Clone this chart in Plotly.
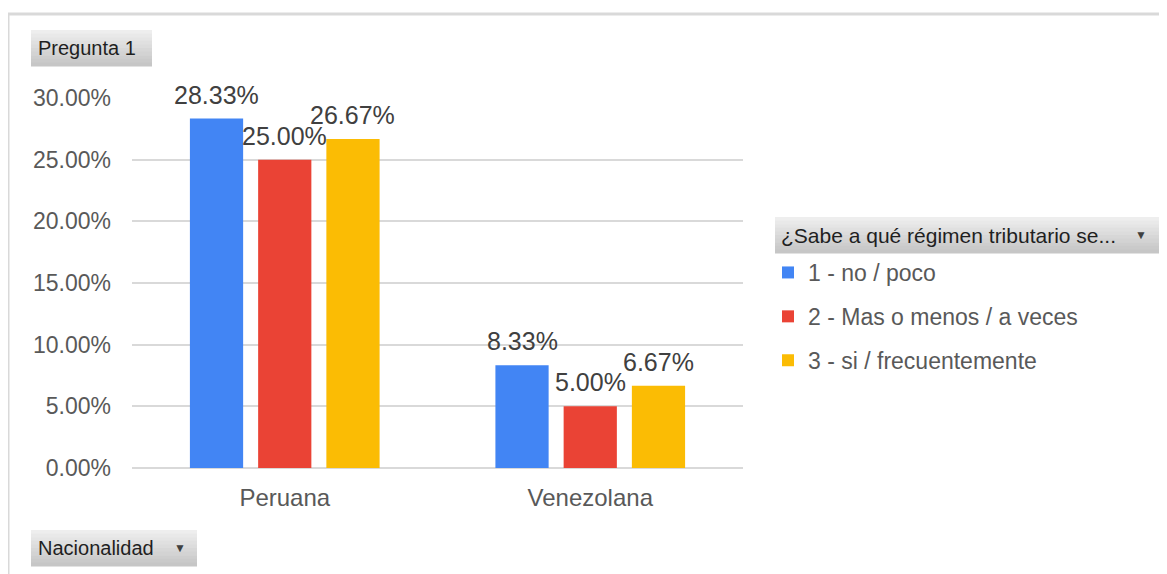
import plotly.graph_objects as go

# ---- data ----
categories = ["Peruana", "Venezolana"]
series_names = ["1 - no / poco", "2 - Mas o menos / a veces", "3 - si / frecuentemente"]
values_peruana = [0.2833, 0.2500, 0.2667]
values_venezolana = [0.0833, 0.0500, 0.0667]
series_colors = ["#4285F4", "#EA4335", "#FBBC04"]
y_ticks = [0.0, 0.05, 0.10, 0.15, 0.20, 0.25, 0.30]

# ---- geometry (screen pixels; page body has an 8px margin) ----
OFF = 8
W_FIG, H_FIG = 1167 - OFF, 574 - OFF
L, R_EDGE, T, B_EDGE = 132 - OFF, 743 - OFF, 98 - OFF, 468 - OFF
PW, PH = R_EDGE - L, B_EDGE - T
BARGAP, BARGROUPGAP = 0.33, 0.22


def px(p):
    return (p - OFF - L) / PW


def py(p):
    return (B_EDGE - (p - OFF)) / PH


fig = go.Figure()
for i, name in enumerate(series_names):
    vals = [values_peruana[i], values_venezolana[i]]
    fig.add_trace(go.Bar(
        x=categories, y=vals, name=name,
        marker=dict(color=series_colors[i], line=dict(width=0)),
        legendgroup=name,
        hoverinfo="skip",
    ))

# data labels via annotations anchored to the data coordinates
cat_w = PW / len(categories)
slot = (1 - BARGAP) * cat_w / len(series_names)
annotations = []
for i, name in enumerate(series_names):
    vals = [values_peruana[i], values_venezolana[i]]
    for c, v in zip(categories, vals):
        annotations.append(dict(
            x=c, y=v, xref="x", yref="y", text=f"{v*100:.2f}%",
            showarrow=False, xshift=(i - 1) * slot, yshift=8,
            yanchor="bottom", xanchor="center",
            font=dict(family="Liberation Sans, Arial", size=25, color="#404040"),
        ))

shapes = []
# outer frame lines (top and left)
shapes.append(dict(type="line", xref="paper", yref="paper", x0=px(8), x1=px(1180), y0=py(14), y1=py(14),
                   line=dict(color="#d9d9d9", width=3), layer="below"))
shapes.append(dict(type="line", xref="paper", yref="paper", x0=px(8), x1=px(8), y0=py(14), y1=py(590),
                   line=dict(color="#d9d9d9", width=3), layer="below"))


def button(x0, y0, x1, y1):
    n = 10
    top, bot = (238, 238, 238), (198, 198, 198)
    h = (y1 - y0) / n
    for k in range(n):
        t = k / (n - 1)
        col = tuple(int(top[j] + (bot[j] - top[j]) * t) for j in range(3))
        shapes.append(dict(type="rect", xref="paper", yref="paper",
                           x0=px(x0), x1=px(x1), y0=py(y0 + k * h), y1=py(y0 + (k + 1) * h + 0.5),
                           fillcolor="rgb(%d,%d,%d)" % col, line=dict(width=0), layer="below"))


button(31, 30, 152, 66)
button(31, 530, 197, 566)
button(775, 217, 1160, 253)

btn_font = dict(family="Liberation Sans, Arial", size=20, color="#1f1f1f")
annotations += [
    dict(xref="paper", yref="paper", x=px(36), y=py(48), text="Pregunta 1", showarrow=False,
         xanchor="left", yanchor="middle", font=btn_font),
    dict(xref="paper", yref="paper", x=px(36), y=py(548), text="Nacionalidad", showarrow=False,
         xanchor="left", yanchor="middle", font=btn_font),
    dict(xref="paper", yref="paper", x=px(180), y=py(548), text="▼", showarrow=False,
         xanchor="center", yanchor="middle", font=dict(size=12, color="#404040")),
    dict(xref="paper", yref="paper", x=px(779), y=py(235), text="¿Sabe a qué régimen tributario se...",
         showarrow=False, xanchor="left", yanchor="middle",
         font=dict(family="Liberation Sans, Arial", size=21, color="#1f1f1f")),
    dict(xref="paper", yref="paper", x=px(1141), y=py(235), text="▼", showarrow=False,
         xanchor="center", yanchor="middle", font=dict(size=12, color="#404040")),
]

fig.update_layout(
    width=W_FIG, height=H_FIG,
    margin=dict(l=L, r=W_FIG - R_EDGE, t=T, b=H_FIG - B_EDGE, autoexpand=False),
    paper_bgcolor="white", plot_bgcolor="white",
    barmode="group", bargap=BARGAP, bargroupgap=BARGROUPGAP,
    font=dict(family="Liberation Sans, Arial", color="#595959"),
    showlegend=True,
    legend=dict(x=px(768), y=py(251), xanchor="left", yanchor="top",
                font=dict(size=23, color="#595959"), tracegroupgap=11,
                bgcolor="rgba(0,0,0,0)", traceorder="grouped"),
    xaxis=dict(showgrid=False, showline=False, zeroline=False, ticks="",
               tickfont=dict(size=24, color="#595959"), ticklabelstandoff=13),
    yaxis=dict(range=[0, 0.30], tickvals=y_ticks, tickformat=".2%",
               showgrid=True, gridcolor="#d9d9d9", gridwidth=2,
               zeroline=True, zerolinecolor="#d9d9d9", zerolinewidth=2,
               showline=False, ticks="", tickfont=dict(size=23, color="#595959"),
               ticklabelstandoff=20),
    shapes=shapes, annotations=annotations,
)

fig.write_html("out.html")
